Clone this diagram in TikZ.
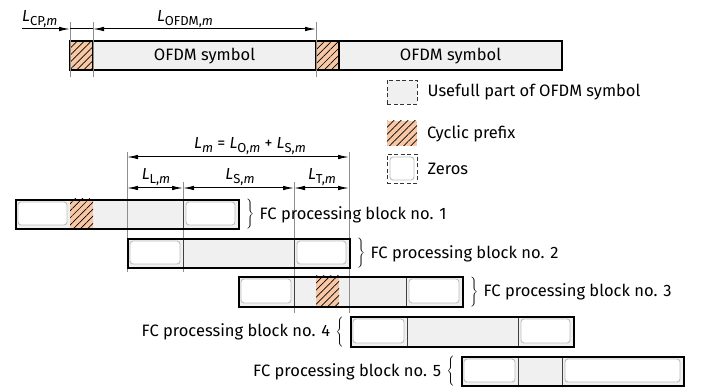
\documentclass[tikz,border=0pt]{standalone}
\usepackage{fontspec}
\setmainfont{Fira Sans}
\usetikzlibrary{arrows.meta,positioning,patterns.meta}

\definecolor{usegray}{HTML}{F0F0F0}
\definecolor{cpfill}{HTML}{F8C8A6}
\definecolor{zeroline}{HTML}{BEBEBE}
\definecolor{extgray}{HTML}{8E8E8E}

\newcommand{\dimL}[1]{\textit{L}\raisebox{-0.45ex}{\fontsize{13}{13}\selectfont #1}}
\newcommand{\blkR}{$\left.\vcenter{\hbox{\rule{0pt}{32pt}}}\right\}$}
\newcommand{\blkL}{$\left\{\vcenter{\hbox{\rule{0pt}{32pt}}}\right.$}

\begin{document}
\begin{tikzpicture}[x=1pt, y=-1pt,
    every node/.style={inner sep=0pt, font=\fontsize{16.5}{19}\selectfont},
    useful/.style={fill=usegray},
    cp/.style={preaction={fill=cpfill}, pattern={Lines[angle=45, distance=5pt, line width=0.7pt]}, pattern color=black},
    zerobox/.style={draw=zeroline, fill=white, line width=0.9pt, rounded corners=3pt},
    blk/.style={draw=black, line width=1.8pt, rectangle, minimum height=29pt},
    divider/.style={draw=black!75, line width=0.9pt},
    ext/.style={draw=extgray, line width=0.7pt},
    dim/.style={draw=black, line width=1pt},
    legdash/.style={draw=black!80, line width=0.9pt, dash pattern=on 4pt off 2.5pt},
    dlabel/.style={font=\fontsize{16}{18}\selectfont}
]
    \useasboundingbox (0,0) rectangle (704,387);

    % OFDM symbols
    \path[cp] (70,41) rectangle (93,70);
    \fill[useful] (93,41) rectangle (316,70);
    \path[cp] (316,41) rectangle (339,70);
    \fill[useful] (339,41) rectangle (562,70);
    \draw[line width=1.3pt] (93,41) -- (93,70) (316,41) -- (316,70) (339,41) -- (339,70);
    \draw[line width=1.8pt] (70,41) rectangle (562,70);
    \node (sym1) at (204.5,56) {OFDM symbol};
    \node (sym2) at (450.5,56) {OFDM symbol};

    % upper dimensions
    \coordinate (cp0) at (22,29);
    \coordinate (t0) at (70,29);
    \coordinate (t1) at (93,29);
    \coordinate (t2) at (316,29);
    \draw[ext] (70,22) -- (70,77) (93,22) -- (93,77) (316,22) -- (316,77);
    \draw[dim, -{Latex[length=11pt, width=4.5pt]}] (cp0) -- (t0);
    \draw[dim] (t0) -- (t1);
    \draw[dim, {Latex[length=11pt, width=4.5pt]}-{Latex[length=11pt, width=4.5pt]}] (t1) -- (t2);
    \node[dlabel, anchor=base west] (lcp) at (22,22) {\dimL{CP,\textit{m}}};
    \node[dlabel, anchor=base] (lofdm) at (185,22) {\dimL{OFDM,\textit{m}}};

    % legend
    \node[legdash, useful, minimum width=30pt, minimum height=24pt] (k1) at (402,92) {};
    \node[right=10pt of k1] (k1t) {Usefull part of OFDM symbol};
    \path[cp] (387,121) rectangle (417,146);
    \coordinate (k2) at (417,133.5);
    \node[right=10pt of k2] (k2t) {Cyclic prefix};
    \node[legdash, minimum width=30pt, minimum height=29pt] (k3) at (402,168.5) {};
    \draw[zerobox] (390,157) rectangle (414,180);
    \node[right=10pt of k3] (k3t) {Zeros};

    % block 1
    \fill[useful] (15,199) rectangle (238,228);
    \draw[zerobox] (18,202) rectangle (67,225);
    \path[cp] (70,199) rectangle (93,228);
    \draw[zerobox] (186,202) rectangle (235,225);
    % block 2
    \fill[useful] (127,238) rectangle (349,267);
    \draw[zerobox] (130,241) rectangle (180,264);
    \draw[zerobox] (297,241) rectangle (346,264);
    % block 3
    \fill[useful] (238,276) rectangle (462,306);
    \draw[zerobox] (241,279) rectangle (291,303);
    \path[cp] (316,276) rectangle (339,306);
    \draw[zerobox] (409,279) rectangle (459,303);
    % block 4
    \fill[useful] (350,316) rectangle (573,346);
    \draw[zerobox] (353,319) rectangle (404,343);
    \draw[zerobox] (521,319) rectangle (570,343);
    % block 5
    \fill[useful] (461,356) rectangle (683,385);
    \draw[zerobox] (464,359) rectangle (515,382);
    \draw[zerobox] (565,359) rectangle (680,382);

    % lower dimensions
    \coordinate (m0) at (127,157);
    \coordinate (m1) at (349,157);
    \coordinate (s0) at (127,188);
    \coordinate (s1) at (183,188);
    \coordinate (s2) at (294,188);
    \coordinate (s3) at (349,188);
    \draw[ext] (127,152) -- (127,272) (183,182) -- (183,272)
               (294,182) -- (294,313) (349,152) -- (349,313);
    \draw[dim, {Latex[length=11pt, width=4.5pt]}-{Latex[length=11pt, width=4.5pt]}] (m0) -- (m1);
    \draw[dim, {Latex[length=11pt, width=4.5pt]}-{Latex[length=11pt, width=4.5pt]}] (s0) -- (s1);
    \draw[dim, {Latex[length=11pt, width=4.5pt]}-{Latex[length=11pt, width=4.5pt]}] (s1) -- (s2);
    \draw[dim, {Latex[length=11pt, width=4.5pt]}-{Latex[length=11pt, width=4.5pt]}] (s2) -- (s3);
    \node[dlabel, anchor=base] (lm) at (250,149) {\dimL{\textit{m}} = \dimL{O,\textit{m}} + \dimL{S,\textit{m}}};
    \node[dlabel, anchor=base] (ll) at (156,180) {\dimL{L,\textit{m}}};
    \node[dlabel, anchor=base] (ls) at (240,180) {\dimL{S,\textit{m}}};
    \node[dlabel, anchor=base] (lt) at (322,180) {\dimL{T,\textit{m}}};

    % dividers and outlines
    \draw[divider] (183,199) -- (183,228);
    \draw[divider] (183,238) -- (183,267) (294,238) -- (294,267);
    \draw[divider] (294,276) -- (294,306) (406,276) -- (406,306);
    \draw[divider] (407,316) -- (407,346) (518,316) -- (518,346);
    \draw[divider] (518,356) -- (518,385) (562,356) -- (562,385);
    \node[blk, minimum width=223pt, anchor=north west] (b1) at (15,199) {};
    \node[blk, minimum width=222pt, anchor=north west] (b2) at (127,238) {};
    \node[blk, minimum width=224pt, minimum height=30pt, anchor=north west] (b3) at (238,276) {};
    \node[blk, minimum width=223pt, minimum height=30pt, anchor=north west] (b4) at (350,316) {};
    \node[blk, minimum width=222pt, anchor=north west] (b5) at (461,356) {};

    % braces and block names
    \node[right=5pt of b1] (br1) {\blkR};
    \node[right=5pt of br1] (n1) {FC processing block no. 1};
    \node[right=5pt of b2] (br2) {\blkR};
    \node[right=5pt of br2] (n2) {FC processing block no. 2};
    \node[right=5pt of b3] (br3) {\blkR};
    \node[right=5pt of br3] (n3) {FC processing block no. 3};
    \node[left=5pt of b4] (br4) {\blkL};
    \node[left=5pt of br4] (n4) {FC processing block no. 4};
    \node[left=5pt of b5] (br5) {\blkL};
    \node[left=5pt of br5] (n5) {FC processing block no. 5};
\end{tikzpicture}
\end{document}
